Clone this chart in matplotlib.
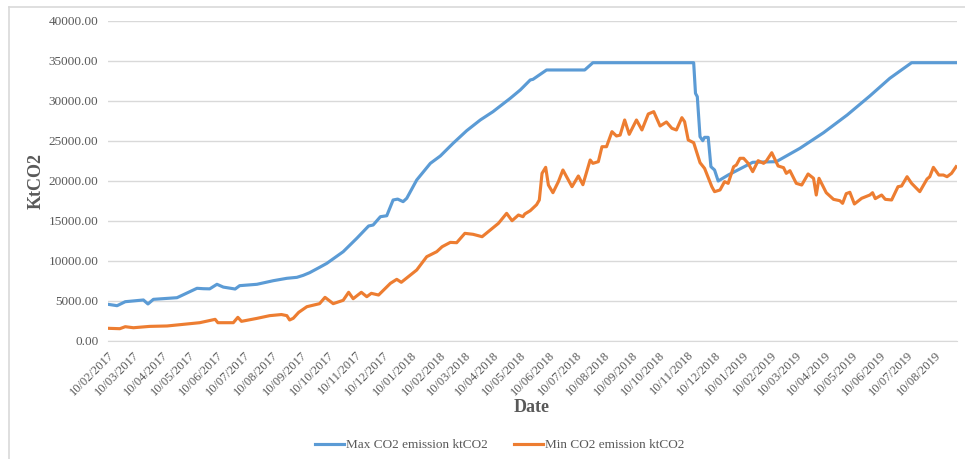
import pandas as pd
import matplotlib
matplotlib.use("Agg")
import matplotlib.pyplot as plt
import matplotlib.dates as mdates
from matplotlib.lines import Line2D

# days counted from 10/02/2017, values in ktCO2
start_date = "2017-02-10"

max_days = [0, 10, 19, 39, 44, 50, 76, 98, 105, 112, 120, 127, 140, 145, 164, 182,
            197, 208, 215, 222, 233, 241, 259, 274, 287, 292, 300, 307, 314, 319,
            325, 329, 340, 355, 366, 380, 395, 410, 424, 443, 454, 465, 468, 483,
            525, 534, 645, 647, 649, 652, 655, 657, 661, 664, 668, 672, 683, 710,
            736, 762, 788, 814, 839, 861, 885, 935]
max_co2 = [4550, 4375, 4875, 5090, 4590, 5170, 5375, 6550, 6500, 6480, 7050, 6700,
           6460, 6880, 7050, 7500, 7800, 7920, 8170, 8500, 9170, 9670, 11125, 12800,
           14340, 14460, 15500, 15620, 17590, 17700, 17380, 17800, 20090, 22170,
           23090, 24670, 26250, 27590, 28630, 30300, 31340, 32590, 32670, 33840,
           33840, 34750, 34750, 30920, 30500, 25500, 25000, 25420, 25420, 21750,
           21340, 19960, 20710, 22300, 22380, 24050, 26000, 28210, 30590, 32800,
           34750, 34750]

min_days = [0, 13, 19, 28, 46, 65, 83, 101, 118, 121, 138, 143, 147, 164, 178, 191,
            197, 200, 204, 210, 219, 230, 233, 239, 248, 259, 265, 270, 279, 285,
            290, 298, 311, 318, 323, 333, 340, 351, 362, 368, 377, 384, 393, 402,
            412, 421, 430, 439, 445, 452, 457, 459, 465, 472, 475, 478, 482, 485,
            490, 496, 501, 511, 518, 523, 531, 534, 540, 544, 549, 555, 560, 564,
            569, 574, 582, 588, 595, 601, 608, 615, 621, 626, 632, 635, 639, 645,
            652, 657, 665, 668, 674, 679, 683, 689, 692, 696, 700, 705, 710, 716,
            722, 725, 731, 734, 738, 744, 747, 751, 758, 764, 771, 777, 780, 783,
            791, 799, 806, 809, 813, 817, 822, 830, 839, 842, 845, 852, 856, 863,
            870, 874, 880, 885, 894, 902, 905, 909, 915, 920, 924, 929, 934]
min_co2 = [1550, 1500, 1750, 1620, 1790, 1840, 2050, 2250, 2670, 2250, 2250, 2920,
           2420, 2790, 3130, 3270, 3130, 2590, 2800, 3540, 4250, 4550, 4630, 5420,
           4630, 5050, 6050, 5250, 6050, 5500, 5920, 5710, 7170, 7670, 7300, 8210,
           8840, 10500, 11125, 11750, 12290, 12250, 13420, 13300, 13000, 13840,
           14670, 15920, 15000, 15710, 15500, 15840, 16250, 17000, 17590, 20920,
           21670, 19460, 18500, 19880, 21340, 19250, 20590, 19500, 22590, 22170,
           22380, 24250, 24250, 26130, 25590, 25700, 27590, 25800, 27590, 26340,
           28340, 28630, 26840, 27340, 26550, 26340, 27880, 27380, 25090, 24750,
           22250, 21540, 19250, 18630, 18840, 19880, 19670, 21750, 21960, 22800,
           22800, 22170, 21130, 22500, 22170, 22460, 23500, 22800, 21840, 21630,
           20920, 21250, 19670, 19460, 20840, 20300, 18210, 20300, 18500, 17670,
           17500, 17170, 18380, 18550, 17090, 17800, 18210, 18500, 17760, 18210,
           17670, 17590, 19250, 19340, 20500, 19670, 18630, 20210, 20500, 21670,
           20710, 20710, 20500, 20920, 21750]

t0 = pd.Timestamp(start_date)
max_dates = t0 + pd.to_timedelta(max_days, unit="D")
min_dates = t0 + pd.to_timedelta(min_days, unit="D")

blue = "#5B9BD5"
orange = "#ED7D31"
grey_txt = "#595959"
grid_c = "#D9D9D9"

plt.rcParams["font.family"] = ["Liberation Serif", "DejaVu Serif"]

fig = plt.figure(figsize=(9.65, 4.59), dpi=100)
ax = fig.add_axes([108 / 965, 1 - 340.7 / 459, (957 - 108) / 965, 320 / 459])

ax.plot(max_dates, max_co2, color=blue, lw=2.25, solid_joinstyle="round")
ax.plot(min_dates, min_co2, color=orange, lw=2.25, solid_joinstyle="round")

ax.set_ylim(0, 40000)
ax.set_yticks(range(0, 40001, 5000))
ax.yaxis.set_major_formatter(plt.FuncFormatter(lambda v, p: f"{v:.2f}"))
ax.set_xlim(max_dates[0], max_dates[-1])
ax.xaxis.set_major_locator(mdates.MonthLocator(bymonthday=10))
ax.xaxis.set_major_formatter(mdates.DateFormatter("%d/%m/%Y"))

ax.grid(axis="y", color=grid_c, lw=1.0)
ax.set_axisbelow(True)
for s in ["top", "right", "left"]:
    ax.spines[s].set_visible(False)
ax.spines["bottom"].set_color(grid_c)
ax.tick_params(axis="both", length=0, colors=grey_txt)
ax.tick_params(axis="y", labelsize=9.5, pad=7)
ax.tick_params(axis="x", labelsize=9, pad=6)
for lab in ax.get_xticklabels():
    lab.set_rotation(45)
    lab.set_ha("right")
    lab.set_va("top")
    lab.set_rotation_mode("anchor")

ax.set_ylabel("KtCO2", fontsize=13, fontweight="bold", color=grey_txt, labelpad=3)
fig.text(532 / 965, 1 - 408 / 459, "Date", fontsize=13, fontweight="bold",
         color=grey_txt, ha="center", va="center")

handles = [Line2D([], [], color=blue, lw=2.25), Line2D([], [], color=orange, lw=2.25)]
fig.legend(handles, ["Max CO2 emission ktCO2", "Min CO2 emission ktCO2"],
           loc="center", bbox_to_anchor=(500 / 965, 1 - 445 / 459), ncol=2,
           frameon=False, fontsize=9.5, labelcolor=grey_txt, handlelength=2.2,
           handletextpad=0.15, columnspacing=2.0)

# chart frame (top and left edges visible in the reference)
fig.add_artist(Line2D([8.5 / 965, 8.5 / 965], [0, 1 - 6.5 / 459], color=grid_c, lw=1.2,
                      transform=fig.transFigure))
fig.add_artist(Line2D([8.5 / 965, 1], [1 - 6.5 / 459, 1 - 6.5 / 459], color=grid_c, lw=1.2,
                      transform=fig.transFigure))

fig.savefig("out.png", dpi=100)
